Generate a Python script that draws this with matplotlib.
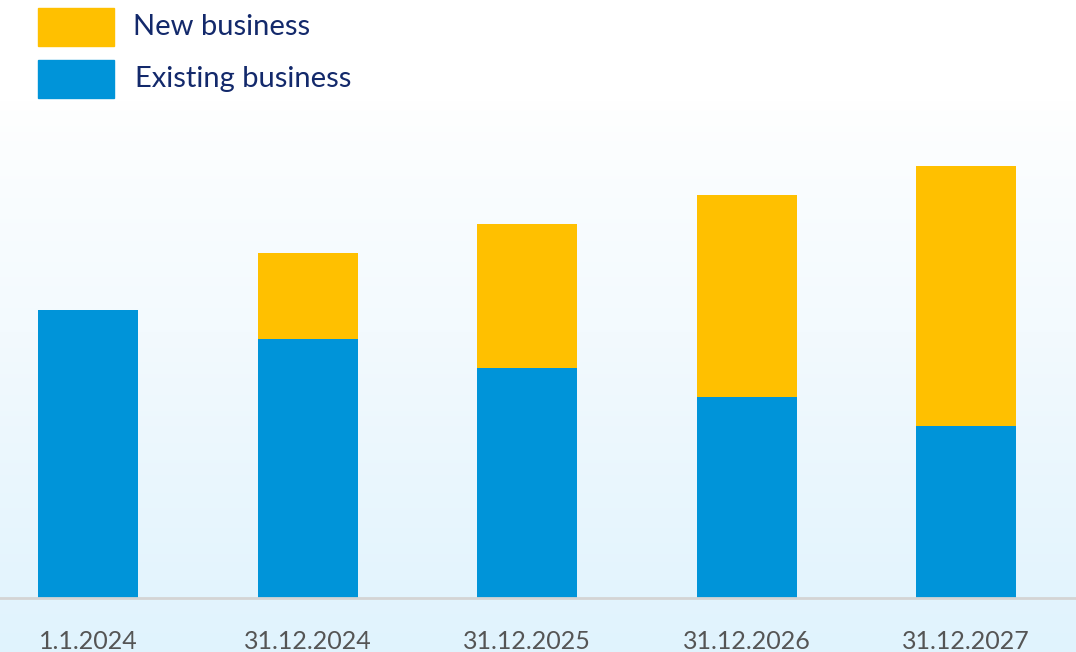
import numpy as np
import matplotlib.pyplot as plt
from matplotlib.patches import Rectangle
from matplotlib.colors import LinearSegmentedColormap

# Data (arbitrary units)
labels = ["1.1.2024", "31.12.2024", "31.12.2025", "31.12.2026", "31.12.2027"]
existing = [288, 259, 230, 201, 172]
new = [0, 86, 144, 202, 260]

blue = "#0094d9"
yellow = "#ffc000"
navy = "#13296b"

W, H = 1076, 652
fig = plt.figure(figsize=(W / 100, H / 100), dpi=100)
fig.patch.set_facecolor("white")

# background gradient (white at the top of the plot area to light blue at the bottom)
bg = fig.add_axes([0, 0, 1, 1], zorder=0)
cmap = LinearSegmentedColormap.from_list("bg", ["#ffffff", "#f3fafe", "#e0f3fd"])
grad = np.ones((H, 1))
top = 100
grad[top:, 0] = np.linspace(0, 1, H - top) ** 0.8
grad[:top, 0] = 0
bg.imshow(grad, aspect="auto", cmap=cmap, vmin=0, vmax=1, extent=[0, 1, 0, 1])
bg.axis("off")

# main axes: baseline at y=598px, top at y=100px
ax = fig.add_axes([0, 1 - 598 / H, 1, 498 / H], zorder=1)
ax.patch.set_alpha(0)
x = np.arange(len(labels))
step = 219.5
width = 100 / step
ax.bar(x, existing, width=width, color=blue, zorder=2)
ax.bar(x, new, width=width, bottom=existing, color=yellow, zorder=2)

ax.set_xlim(-88 / step, 4 + (W - 966) / step)
ax.set_ylim(0, 498)
for s in ["top", "right", "left"]:
    ax.spines[s].set_visible(False)
ax.spines["bottom"].set_color("#d4d4d4")
ax.spines["bottom"].set_linewidth(2)
ax.set_yticks([])
ax.set_xticks(x)
ax.set_xticklabels(labels, fontsize=18, color="#555555", family="Lato")
ax.tick_params(axis="x", length=0, pad=23)

# legend drawn by hand at the top left
for (y0, col, txt, tx) in [(8, yellow, "New business", 133), (60, blue, "Existing business", 135)]:
    fig.add_artist(Rectangle((38 / W, 1 - (y0 + 38) / H), 76 / W, 38 / H,
                             transform=fig.transFigure, color=col, zorder=3))
    fig.text(tx / W, 1 - (y0 + 19) / H, txt, fontsize=21, color=navy,
             family="Lato", va="center", ha="left", zorder=3)

fig.savefig("out.png", dpi=100)
